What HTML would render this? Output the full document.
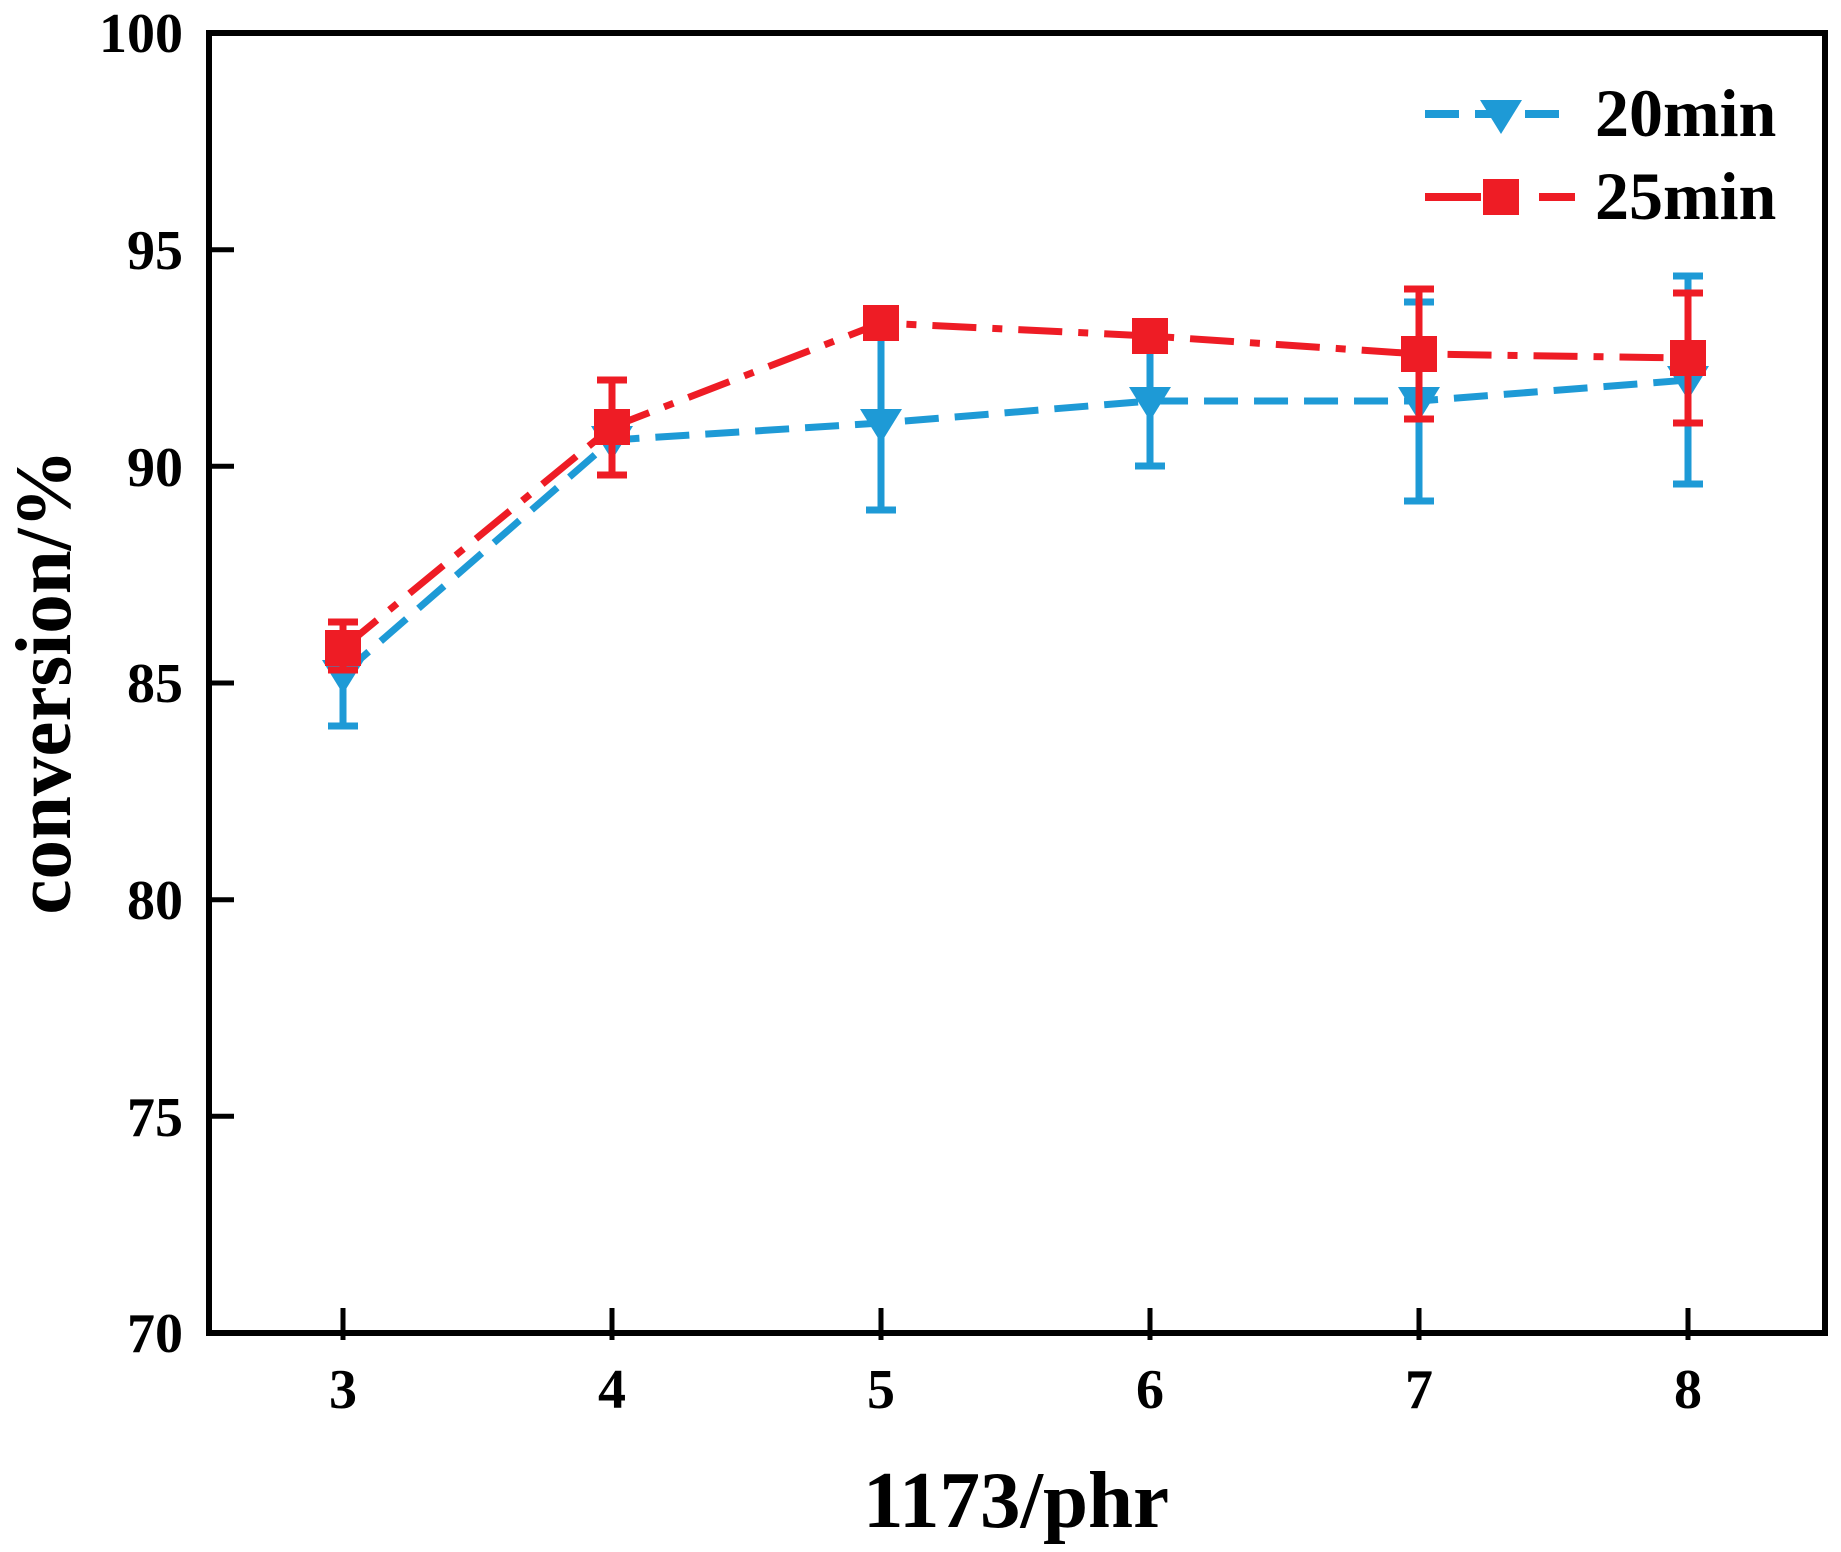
<!DOCTYPE html><html><head><style>body{margin:0;background:#fff}</style></head><body>
<svg width="1841" height="1547" xmlns="http://www.w3.org/2000/svg" font-family="Liberation Serif, serif" font-weight="bold">
<rect x="209" y="33" width="1616" height="1300" fill="none" stroke="#000" stroke-width="6"/>
<g stroke="#000" stroke-width="5">
<line x1="209" y1="249.7" x2="234" y2="249.7"/><line x1="209" y1="466.3" x2="234" y2="466.3"/><line x1="209" y1="683" x2="234" y2="683"/><line x1="209" y1="899.7" x2="234" y2="899.7"/><line x1="209" y1="1116.3" x2="234" y2="1116.3"/>
<line x1="343" y1="1340" x2="343" y2="1308"/><line x1="612" y1="1340" x2="612" y2="1308"/><line x1="881" y1="1340" x2="881" y2="1308"/><line x1="1150" y1="1340" x2="1150" y2="1308"/><line x1="1419" y1="1340" x2="1419" y2="1308"/><line x1="1688" y1="1340" x2="1688" y2="1308"/>
</g>
<g font-size="56" text-anchor="end">
<text x="183" y="52">100</text><text x="183" y="269">95</text><text x="183" y="486">90</text><text x="183" y="702">85</text><text x="183" y="919">80</text><text x="183" y="1136">75</text><text x="183" y="1352">70</text></g>
<g font-size="56" text-anchor="middle">
<text x="343" y="1408">3</text><text x="612" y="1408">4</text><text x="881" y="1408">5</text><text x="1150" y="1408">6</text><text x="1419" y="1408">7</text><text x="1688" y="1408">8</text></g>
<text x="1016" y="1527" font-size="81" text-anchor="middle">1173/phr</text>
<text transform="translate(70,682) rotate(-90)" font-size="79" text-anchor="middle">conversion/%</text>
<!-- 20min blue -->
<g stroke="#1e9ad6" stroke-width="7" fill="none">
<polyline points="343,674 612,440 881,423 1150,401 1419,401 1688,380" stroke-dasharray="34,16"/>
<path d="M343,726V650M328,726h30M881,510V336M866,510h30M1150,466V336M1135,466h30M1419,501V302M1404,501h30M1404,302h30M1688,484V276M1673,484h30M1673,276h30"/>
</g>
<g fill="#1e9ad6"><path d="M322,660h42l-21,34z"/><path d="M591,426h42l-21,34z"/><path d="M860,409h42l-21,34z"/><path d="M1129,387h42l-21,34z"/><path d="M1398,387h42l-21,34z"/><path d="M1667,366h42l-21,34z"/></g>
<!-- 25min red -->
<g stroke="#ee1c25" stroke-width="7" fill="none">
<polyline points="343,648 612,427 881,323 1150,336 1419,354 1688,358" stroke-dasharray="44,16,10,16"/>
<path d="M343,670V622M328,670h30M328,622h30M612,475V380M597,475h30M597,380h30M881,336V310M1419,419V289M1404,419h30M1404,289h30M1688,423V293M1673,423h30M1673,293h30"/>
</g>
<g fill="#ee1c25"><rect x="325" y="630" width="36" height="36"/><rect x="594" y="409" width="36" height="36"/><rect x="863" y="305" width="36" height="36"/><rect x="1132" y="318" width="36" height="36"/><rect x="1401" y="336" width="36" height="36"/><rect x="1670" y="340" width="36" height="36"/></g>
<!-- legend -->
<line x1="1425" y1="114" x2="1575" y2="114" stroke="#1e9ad6" stroke-width="8" stroke-dasharray="34,16"/>
<path d="M1480,100h42l-21,34z" fill="#1e9ad6"/>
<line x1="1425" y1="197" x2="1575" y2="197" stroke="#ee1c25" stroke-width="8" stroke-dasharray="56,18,18,22"/>
<rect x="1483" y="179" width="36" height="36" fill="#ee1c25"/>
<text x="1595" y="136" font-size="68">20min</text>
<text x="1595" y="219" font-size="68">25min</text>
</svg></body></html>
